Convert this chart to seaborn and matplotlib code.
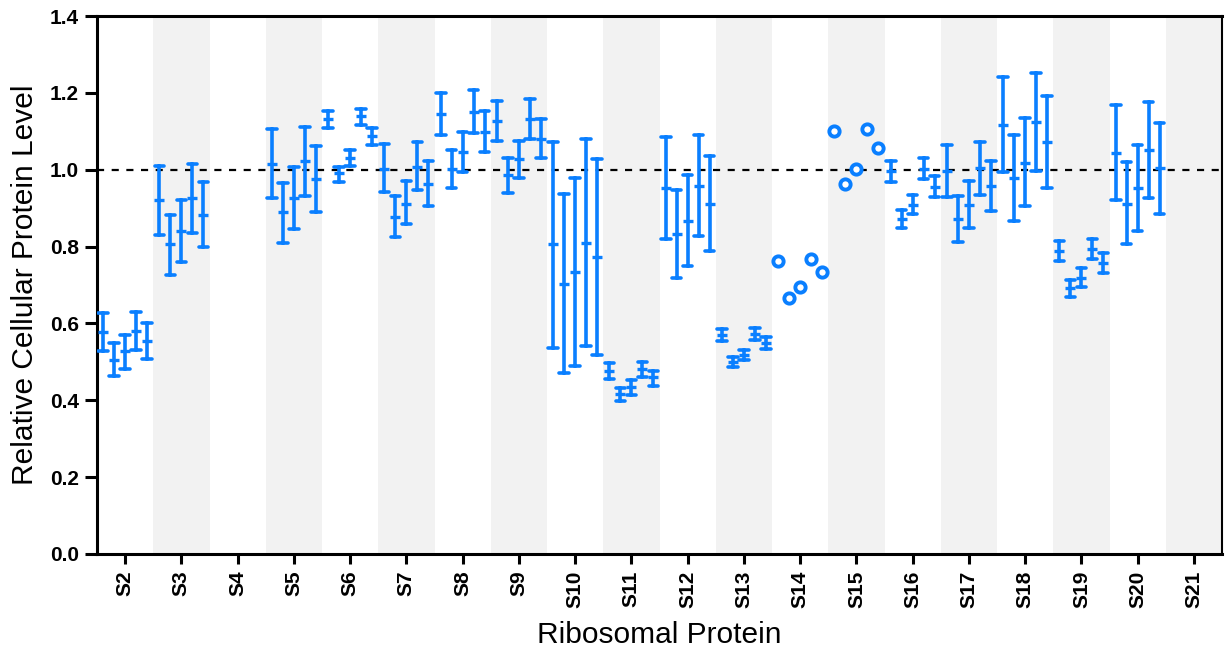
import numpy as np
import pandas as pd
import matplotlib
matplotlib.use("Agg")
import matplotlib.pyplot as plt
import seaborn as sns

# Ribosomal proteins on the x axis (S4 and S21 carry no measurements)
proteins = ["S2", "S3", "S4", "S5", "S6", "S7", "S8", "S9", "S10", "S11",
            "S12", "S13", "S14", "S15", "S16", "S17", "S18", "S19", "S20", "S21"]
replicates = ["r1", "r2", "r3", "r4", "r5"]

# Proteins measured with an error range: centre value, upper and lower bound
err_proteins = ["S2", "S3", "S5", "S6", "S7", "S8", "S9", "S10", "S11", "S12",
                "S13", "S16", "S17", "S18", "S19", "S20"]
level_mid = [
    [0.578, 0.506, 0.527, 0.580, 0.555],
    [0.920, 0.806, 0.840, 0.926, 0.883],
    [1.016, 0.890, 0.927, 1.022, 0.975],
    [1.131, 0.991, 1.031, 1.140, 1.088],
    [1.003, 0.878, 0.912, 1.008, 0.962],
    [1.144, 1.001, 1.045, 1.151, 1.099],
    [1.127, 0.986, 1.027, 1.133, 1.081],
    [0.806, 0.703, 0.733, 0.810, 0.773],
    [0.477, 0.416, 0.435, 0.481, 0.460],
    [0.952, 0.833, 0.867, 0.958, 0.912],
    [0.570, 0.499, 0.519, 0.573, 0.549],
    [0.997, 0.872, 0.908, 1.002, 0.956],
    [0.997, 0.871, 0.909, 1.004, 0.958],
    [1.117, 0.978, 1.018, 1.125, 1.073],
    [0.788, 0.691, 0.717, 0.794, 0.758],
    [1.043, 0.912, 0.952, 1.052, 1.004],
]
level_hi = [
    [0.626, 0.548, 0.571, 0.631, 0.602],
    [1.010, 0.883, 0.920, 1.015, 0.968],
    [1.105, 0.966, 1.007, 1.111, 1.062],
    [1.153, 1.008, 1.051, 1.159, 1.108],
    [1.066, 0.932, 0.971, 1.071, 1.023],
    [1.199, 1.051, 1.097, 1.208, 1.153],
    [1.179, 1.031, 1.075, 1.185, 1.133],
    [1.072, 0.936, 0.978, 1.079, 1.028],
    [0.497, 0.432, 0.452, 0.499, 0.477],
    [1.084, 0.946, 0.985, 1.090, 1.037],
    [0.586, 0.513, 0.532, 0.588, 0.564],
    [1.024, 0.894, 0.934, 1.030, 0.984],
    [1.065, 0.932, 0.970, 1.071, 1.023],
    [1.242, 1.090, 1.135, 1.251, 1.192],
    [0.814, 0.714, 0.743, 0.819, 0.784],
    [1.168, 1.020, 1.064, 1.175, 1.121],
]
level_lo = [
    [0.527, 0.462, 0.481, 0.532, 0.508],
    [0.830, 0.727, 0.759, 0.836, 0.799],
    [0.926, 0.810, 0.845, 0.932, 0.890],
    [1.109, 0.969, 1.010, 1.117, 1.065],
    [0.942, 0.825, 0.859, 0.947, 0.905],
    [1.090, 0.953, 0.994, 1.095, 1.046],
    [1.075, 0.940, 0.978, 1.081, 1.030],
    [0.537, 0.471, 0.490, 0.542, 0.518],
    [0.455, 0.397, 0.414, 0.460, 0.438],
    [0.820, 0.717, 0.750, 0.827, 0.789],
    [0.555, 0.486, 0.504, 0.558, 0.534],
    [0.968, 0.849, 0.884, 0.975, 0.930],
    [0.930, 0.813, 0.848, 0.935, 0.892],
    [0.994, 0.866, 0.905, 0.998, 0.952],
    [0.763, 0.668, 0.694, 0.768, 0.732],
    [0.922, 0.806, 0.840, 0.927, 0.886],
]

# Proteins shown as single values (open circles)
circle_proteins = ["S14", "S15"]
circle_levels = [
    [0.762, 0.667, 0.695, 0.767, 0.733],
    [1.100, 0.963, 1.003, 1.107, 1.056],
]

BLUE = "#0a7fff"
BAND = "#f2f2f2"

sns.set_theme(style="ticks")
plt.rcParams["font.family"] = ["Liberation Sans", "DejaVu Sans"]
plt.rcParams["text.color"] = "black"
plt.rcParams["axes.labelcolor"] = "black"

# Long-form tables: each replicate contributes lo/mid/hi so that the
# median is the centre value and the full percentile range spans lo..hi
rows = []
for p, mids, his, los in zip(err_proteins, level_mid, level_hi, level_lo):
    for r, m, h, l in zip(replicates, mids, his, los):
        for v in (l, m, h):
            rows.append({"protein": p, "rep": r, "level": v})
err_df = pd.DataFrame(rows)

circ_rows = []
for p, vals in zip(circle_proteins, circle_levels):
    for r, v in zip(replicates, vals):
        circ_rows.append({"protein": p, "rep": r, "level": v})
circ_df = pd.DataFrame(circ_rows)

fig = plt.figure(figsize=(12.25, 6.49), dpi=100)
ax = fig.add_axes([0.0792, 0.1464, 0.9184, 0.8289])

# Alternating shaded columns
for i in range(1, len(proteins), 2):
    ax.axvspan(i - 0.5, i + 0.5, color=BAND, lw=0, zorder=0)

ax.axhline(1.0, color="black", lw=1.6, dashes=(3.2, 3.4), zorder=1)

palette = [BLUE] * len(replicates)
sns.pointplot(
    data=err_df, x="protein", y="level", hue="rep",
    order=proteins, hue_order=replicates, palette=palette,
    estimator="median", errorbar=("pi", 100), dodge=0.78,
    linestyle="none", marker="_", markersize=6.8, markeredgewidth=2.4,
    capsize=0.17, err_kws={"linewidth": 2.6},
    legend=False, ax=ax, zorder=3,
)
sns.pointplot(
    data=circ_df, x="protein", y="level", hue="rep",
    order=proteins, hue_order=replicates, palette=palette,
    errorbar=None, dodge=0.78, linestyle="none", marker="o",
    markersize=7.4, markeredgewidth=2.8, markerfacecolor="white",
    legend=False, ax=ax, zorder=3,
)

ax.set_xlim(-0.5, len(proteins) - 0.5)
ax.set_ylim(0, 1.4)
ax.set_yticks(np.arange(0, 1.41, 0.2))
ax.set_yticklabels([f"{v:.1f}" for v in np.arange(0, 1.41, 0.2)])

for side in ["left", "bottom", "top"]:
    ax.spines[side].set_linewidth(2.2)
    ax.spines[side].set_color("black")
ax.spines["right"].set_linewidth(1.5)
ax.spines["right"].set_color("black")

ax.tick_params(axis="y", direction="out", length=9, width=2.2, pad=4,
               labelsize=15, colors="black")
ax.tick_params(axis="x", direction="out", length=7, width=2.2, pad=5,
               labelsize=15, colors="black", labelrotation=90)
for lab in ax.get_xticklabels() + ax.get_yticklabels():
    lab.set_fontweight("bold")

ax.set_xlabel("Ribosomal Protein", fontsize=21.5, labelpad=9, color="black")
ax.set_ylabel("Relative Cellular Protein Level", fontsize=21.5, labelpad=8,
              color="black")
ax.grid(False)

fig.savefig("out.png", dpi=100)
